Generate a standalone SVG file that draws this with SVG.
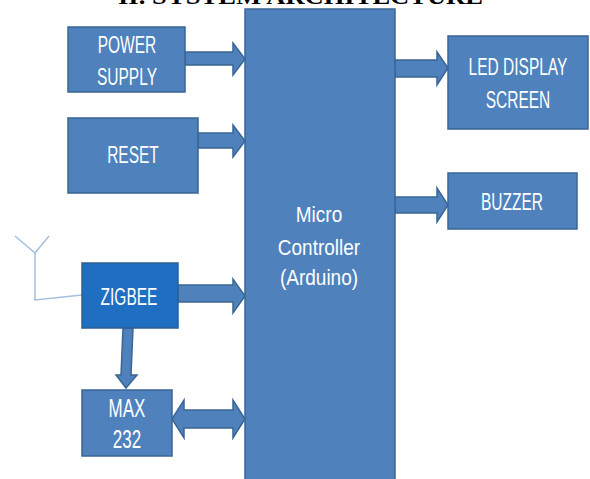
<svg xmlns="http://www.w3.org/2000/svg" width="590" height="479" viewBox="0 0 590 479">
<style>
.box{fill:#4F81BD;stroke:#3A6593;stroke-width:1.5}
.zb{fill:#1E6EC2;stroke:#2F5F92;stroke-width:1.5}
.arr{fill:#4F81BD;stroke:#3A6593;stroke-width:1.5;stroke-linejoin:miter}
.ant{fill:none;stroke:#A3BEDF;stroke-width:1.5}
.t{font-family:"Liberation Sans",Arial,sans-serif;font-size:15.5px;fill:#FFFFFF;text-anchor:middle}
.m{font-family:"Liberation Sans",Arial,sans-serif;font-size:19px;fill:#FFFFFF;text-anchor:middle}
.title{font-family:"Liberation Serif","Times New Roman",serif;font-weight:bold;font-size:24px;fill:#000}
</style>
<rect width="590" height="479" fill="#FFFFFF"/>
<text class="title" x="118" y="4" textLength="365" lengthAdjust="spacingAndGlyphs">II. SYSTEM ARCHITECTURE</text>
<g id="connectors">
<polygon class="arr" points="185,52 233,52 233,43 245,59 233,75 233,65 185,65"/>
<polygon class="arr" points="198,133 233,133 233,125 245,141 233,157 233,148 198,148"/>
<polygon class="arr" points="178,285 233,285 233,279 245,296 233,313 233,302 178,302"/>
<polygon class="arr" points="395,60 437,60 437,52 448,68 437,85 437,77 395,77"/>
<polygon class="arr" points="395,197 437,197 437,188 448,205 437,222 437,213 395,213"/>
<polygon class="arr" points="123,328 133,328 131,375 137,375 126,388 116,375 121,375"/>
<polygon class="arr" points="172,419 184,400 184,410 233,410 233,400 245,419 233,438 233,428 184,428 184,438"/>
<polyline class="ant" points="82,295 35,300 35,253"/>
<polyline class="ant" points="15,236 35,253 49,236"/>
</g>
<g id="micro">
<rect class="box" x="245" y="9" width="150" height="480"/>
<g transform="scale(1,1.15)">
<text class="m" x="319" y="193">Micro</text>
<text class="m" x="319" y="222">Controller</text>
<text class="m" x="319" y="248">(Arduino)</text>
</g>
</g>
<g id="power">
<rect class="box" x="68" y="27" width="117" height="65"/>
<g transform="scale(1,1.5)">
<text class="t" x="127" y="35.5">POWER</text>
<text class="t" x="127" y="56.5">SUPPLY</text>
</g>
</g>
<g id="reset">
<rect class="box" x="68" y="118" width="130" height="75"/>
<g transform="scale(1,1.5)"><text class="t" x="133" y="108.5">RESET</text></g>
</g>
<g id="zigbee">
<rect class="zb" x="82" y="263" width="96" height="65"/>
<g transform="scale(1,1.5)"><text class="t" x="129" y="203.5">ZIGBEE</text></g>
</g>
<g id="max232">
<rect class="box" x="82" y="390" width="90" height="66"/>
<g transform="scale(1,1.5)">
<text class="t" x="127" y="278" style="font-size:17px">MAX</text>
<text class="t" x="127" y="298.5" style="font-size:17px">232</text>
</g>
</g>
<g id="led">
<rect class="box" x="448" y="36" width="140" height="93"/>
<g transform="scale(1,1.5)">
<text class="t" x="518" y="50">LED DISPLAY</text>
<text class="t" x="518" y="72">SCREEN</text>
</g>
</g>
<g id="buzzer">
<rect class="box" x="448" y="173" width="129" height="56"/>
<g transform="scale(1,1.5)"><text class="t" x="512" y="140">BUZZER</text></g>
</g>
</svg>
